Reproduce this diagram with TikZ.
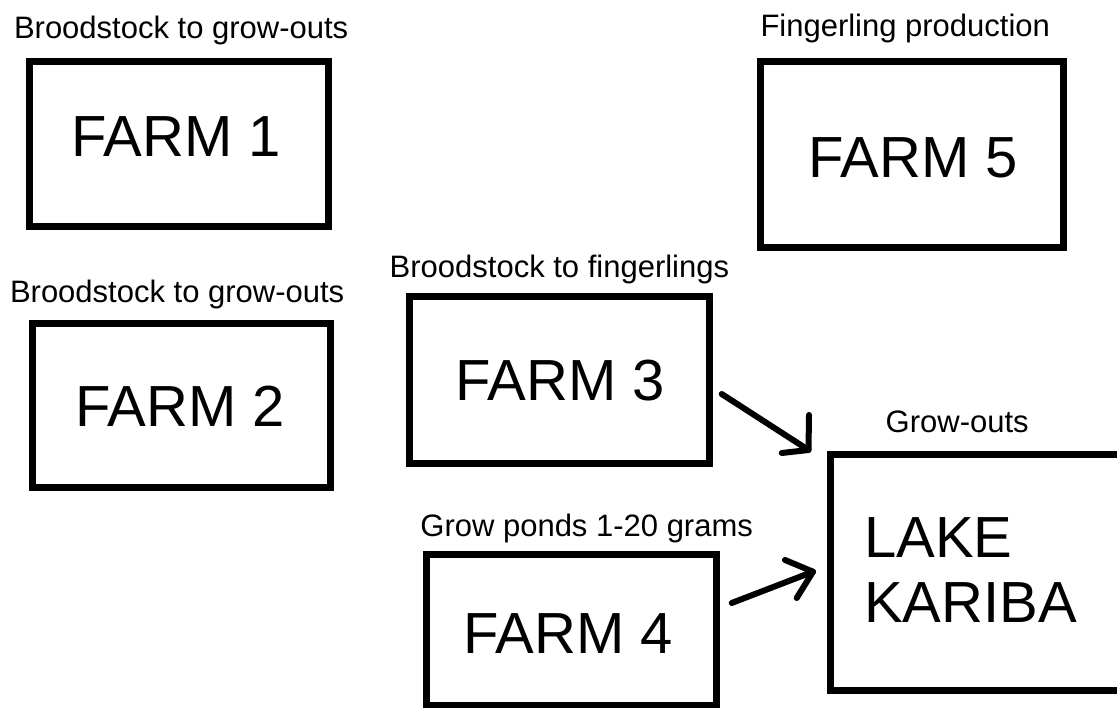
\documentclass[tikz,border=0pt]{standalone}
\usepackage{fontspec}
\setmainfont{Liberation Sans}
\begin{document}
\begin{tikzpicture}[x=1pt,y=-1pt,
  farmbox/.style={draw=black, line width=7pt, rectangle, inner sep=0pt, outer sep=0pt,
    minimum width=#1},
  bigtext/.style={anchor=base west, inner sep=0pt, font=\fontsize{58}{66}\selectfont},
  caption/.style={anchor=base west, inner sep=0pt, font=\fontsize{31}{36}\selectfont},
  stroke/.style={line width=6pt, line cap=round, line join=round}]
\useasboundingbox (0,0) rectangle (1117,708);
\clip (0,0) rectangle (1117,708);
\fill[white] (0,0) rectangle (1117,708);

% boxes
\node[farmbox=299pt, minimum height=165pt] (farm1) at (179,144) {};
\node[farmbox=298pt, minimum height=164.5pt] (farm2) at (181.5,405.75) {};
\node[farmbox=300pt, minimum height=166.5pt] (farm3) at (559.5,380.25) {};
\node[farmbox=290.5pt, minimum height=150.5pt] (farm4) at (571.25,629.75) {};
\node[farmbox=303pt, minimum height=186.5pt] (farm5) at (911.5,154.75) {};
\node[farmbox=295pt, minimum height=235pt] (lake) at (977.5,572.5) {};

% box contents
\node[bigtext] (t1) at (71.4,157) {FARM 1};
\node[bigtext] (t2) at (75.4,427) {FARM 2};
\node[bigtext] (t3) at (455.4,401) {FARM 3};
\node[bigtext] (t4) at (463.4,653) {FARM 4};
\node[bigtext] (t5) at (808.4,178) {FARM 5};
\node[bigtext] (tl1) at (864,557) {LAKE};
\node[bigtext] (tl2) at (864,622) {KARIBA};

% captions
\node[caption] (c1) at (13.8,39) {Broodstock to grow-outs};
\node[caption] (c2) at (9.8,303) {Broodstock to grow-outs};
\node[caption] (c3) at (389.5,278) {Broodstock to fingerlings};
\node[caption] (c4) at (420.2,536.7) {Grow ponds 1-20 grams};
\node[caption] (c5) at (760.3,36.7) {Fingerling production};
\node[caption] (cl) at (885.5,433) {Grow-outs};

% hand-drawn arrows into the lake
\coordinate (a3s) at (721.7,394);
\coordinate (a3t) at (808.5,450);
\coordinate (a3u) at (809,415);
\coordinate (a3l) at (781.7,453);
\draw[stroke] (a3s) -- (a3t);
\draw[stroke] (a3u) -- (a3t) -- (a3l);

\coordinate (a4s) at (731.7,603);
\coordinate (a4t) at (813,571.7);
\coordinate (a4u) at (785,560);
\coordinate (a4l) at (796.7,598);
\draw[stroke] (a4s) -- (a4t);
\draw[stroke] (a4u) -- (a4t) -- (a4l);
\end{tikzpicture}
\end{document}
